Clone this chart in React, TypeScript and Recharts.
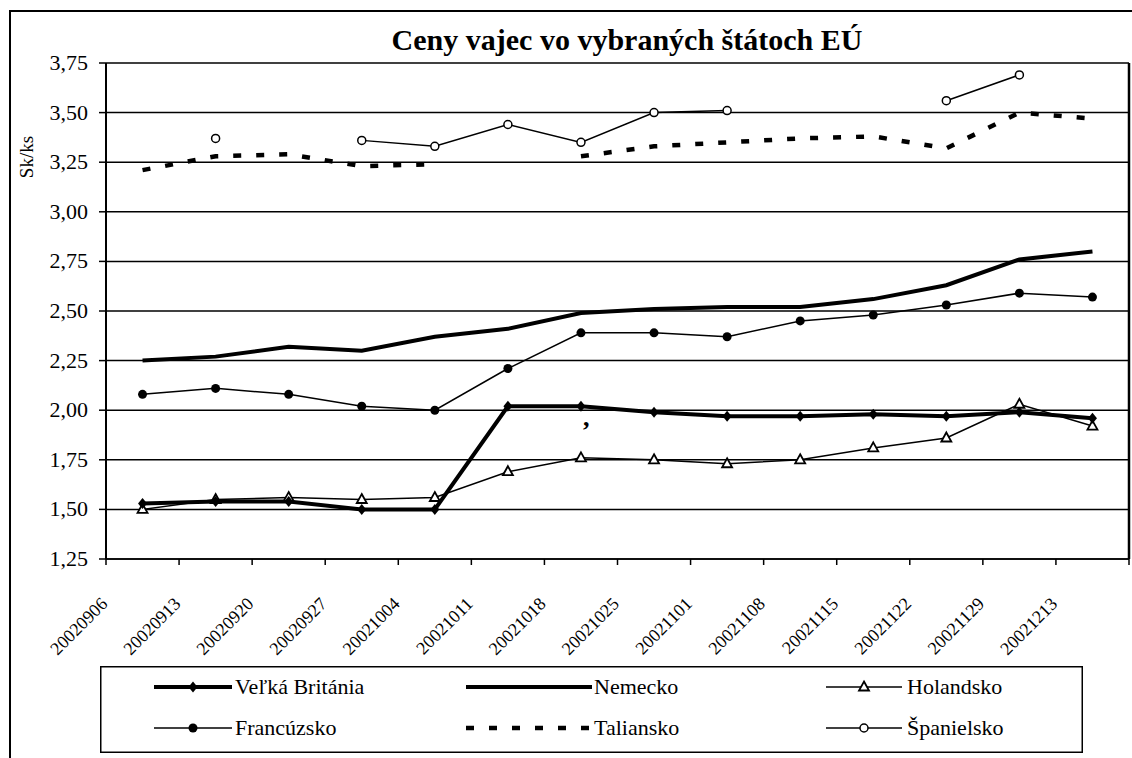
import React from 'react';
import {
    LineChart,
    Line,
    XAxis,
    YAxis,
    CartesianGrid,
    ReferenceDot,
} from 'recharts';

const categories = [
    '20020906', '20020913', '20020920', '20020927', '20021004', '20021011', '20021018',
    '20021025', '20021101', '20021108', '20021115', '20021122', '20021129', '20021213',
];

const velkaBritania = [1.53, 1.54, 1.54, 1.5, 1.5, 2.02, 2.02, 1.99, 1.97, 1.97, 1.98, 1.97, 1.99, 1.96];
const nemecko = [2.25, 2.27, 2.32, 2.3, 2.37, 2.41, 2.49, 2.51, 2.52, 2.52, 2.56, 2.63, 2.76, 2.8];
const holandsko = [1.5, 1.55, 1.56, 1.55, 1.56, 1.69, 1.76, 1.75, 1.73, 1.75, 1.81, 1.86, 2.03, 1.92];
const francuzsko = [2.08, 2.11, 2.08, 2.02, 2.0, 2.21, 2.39, 2.39, 2.37, 2.45, 2.48, 2.53, 2.59, 2.57];
const taliansko = [3.21, 3.28, 3.29, 3.23, 3.24, null, 3.28, 3.33, 3.35, 3.37, 3.38, 3.32, 3.5, 3.47];
const spanielsko = [null, 3.37, null, 3.36, 3.33, 3.44, 3.35, 3.5, 3.51, null, null, 3.56, 3.69, null];

const yTicks = [1.25, 1.5, 1.75, 2.0, 2.25, 2.5, 2.75, 3.0, 3.25, 3.5, 3.75];

const FONT = "'Liberation Serif', 'Times New Roman', Times, serif";
const W = 1132;
const H = 758;
const PLOT_LEFT = 106;
const PLOT_RIGHT = 1129;
const PLOT_TOP = 63;
const PLOT_BOTTOM = 559;
const BAND = (PLOT_RIGHT - PLOT_LEFT) / categories.length;

const data = categories.map((date, i) => ({
    date,
    vb: velkaBritania[i],
    de: nemecko[i],
    nl: holandsko[i],
    fr: francuzsko[i],
    it: taliansko[i],
    es: spanielsko[i],
}));

const fmt = (v: number) => v.toFixed(2).replace('.', ',');
const serif = { fontFamily: FONT };

function Diamond(props: any) {
    const { cx, cy, index } = props;
    if (cx == null || cy == null) return <g key={`dm-${index}`} />;
    return (
        <path
            key={`dm-${index}`}
            d={`M${cx},${cy - 5.5} L${cx + 4.5},${cy} L${cx},${cy + 5.5} L${cx - 4.5},${cy} Z`}
            fill="#000"
        />
    );
}

function Triangle(props: any) {
    const { cx, cy, index } = props;
    if (cx == null || cy == null) return <g key={`tr-${index}`} />;
    return (
        <path
            key={`tr-${index}`}
            d={`M${cx},${cy - 5.5} L${cx + 5},${cy + 3.5} L${cx - 5},${cy + 3.5} Z`}
            fill="#fff"
            stroke="#000"
            strokeWidth={1.8}
        />
    );
}

function XTick(props: any) {
    const { x, y, payload, index } = props;
    const last = index === categories.length - 1;
    return (
        <g>
            <line x1={x - BAND / 2} y1={y} x2={x - BAND / 2} y2={y + 6} stroke="#000" strokeWidth={1.5} />
            {last && <line x1={x + BAND / 2} y1={y} x2={x + BAND / 2} y2={y + 6} stroke="#000" strokeWidth={1.5} />}
            <text
                transform={`translate(${x - 34},${y + 46}) rotate(-45)`}
                textAnchor="end"
                style={serif}
                fontSize={18}
                fill="#000"
            >
                {payload.value}
            </text>
        </g>
    );
}

function YTick(props: any) {
    const { x, y, payload } = props;
    return (
        <text x={x} y={y + 7} textAnchor="end" style={serif} fontSize={22} fill="#000">
            {fmt(payload.value)}
        </text>
    );
}

type Sample = { name: string; dash?: string; width: number; marker?: string; x1: number; x2: number; row: number; textX: number };

const legendItems: Sample[] = [
    { name: 'Veľká Británia', width: 4, marker: 'diamond', x1: 54, x2: 132, row: 0, textX: 135 },
    { name: 'Nemecko', width: 4, x1: 366, x2: 492, row: 0, textX: 494 },
    { name: 'Holandsko', width: 1.5, marker: 'triangle', x1: 726, x2: 802, row: 0, textX: 807 },
    { name: 'Francúzsko', width: 1.5, marker: 'dot', x1: 54, x2: 132, row: 1, textX: 135 },
    { name: 'Taliansko', width: 4.5, dash: '8 15', x1: 366, x2: 492, row: 1, textX: 494 },
    { name: 'Španielsko', width: 1.5, marker: 'circle', x1: 726, x2: 802, row: 1, textX: 807 },
];

function LegendBox() {
    const rowY = [21, 62];
    return (
        <svg width={983} height={87} style={{ display: 'block' }}>
            <rect x={0.75} y={0.75} width={981.5} height={85.5} fill="#fff" stroke="#000" strokeWidth={1.5} />
            {legendItems.map((it) => {
                const cy = rowY[it.row];
                const mx = (it.x1 + it.x2) / 2;
                return (
                    <g key={it.name}>
                        <line x1={it.x1} y1={cy} x2={it.x2} y2={cy} stroke="#000" strokeWidth={it.width} strokeDasharray={it.dash} />
                        {it.marker === 'diamond' && <Diamond cx={mx} cy={cy} index={0} />}
                        {it.marker === 'triangle' && <Triangle cx={mx} cy={cy} index={0} />}
                        {it.marker === 'dot' && <circle cx={mx} cy={cy} r={4.5} fill="#000" />}
                        {it.marker === 'circle' && <circle cx={mx} cy={cy} r={4} fill="#fff" stroke="#000" strokeWidth={1.5} />}
                        <text x={it.textX} y={cy + 7} style={serif} fontSize={22} fill="#000">
                            {it.name}
                        </text>
                    </g>
                );
            })}
        </svg>
    );
}

export default function App() {
    return (
        <div style={{ position: 'absolute', left: 0, top: 0, width: W, height: H, overflow: 'hidden', background: '#fff', fontFamily: FONT }}>
            <div
                style={{
                    position: 'absolute',
                    left: 9,
                    top: 10,
                    width: 1300,
                    height: 900,
                    border: '2px solid #000',
                }}
            />
            <div
                style={{
                    position: 'absolute',
                    left: 627,
                    top: 25,
                    transform: 'translateX(-50%)',
                    whiteSpace: 'nowrap',
                    fontFamily: FONT,
                    fontWeight: 'bold',
                    fontSize: 30,
                    lineHeight: '30px',
                    color: '#000',
                }}
            >
                Ceny vajec vo vybraných štátoch EÚ
            </div>
            <div style={{ position: 'absolute', left: 0, top: 0 }}>
                <LineChart
                    width={W}
                    height={H}
                    data={data}
                    margin={{ top: PLOT_TOP, right: W - PLOT_RIGHT - 1, left: 0, bottom: 0 }}
                >
                    <CartesianGrid vertical={false} stroke="#000" strokeWidth={1.5} />
                    <XAxis
                        dataKey="date"
                        interval={0}
                        padding={{ left: BAND / 2, right: BAND / 2 }}
                        tickLine={false}
                        tickSize={0}
                        tickMargin={0}
                        height={H - PLOT_BOTTOM}
                        axisLine={{ stroke: '#000', strokeWidth: 1.5 }}
                        tick={<XTick />}
                    />
                    <YAxis
                        domain={[1.25, 3.75]}
                        ticks={yTicks}
                        width={PLOT_LEFT}
                        tickSize={7}
                        tickMargin={11}
                        tickLine={{ stroke: '#000', strokeWidth: 1.5 }}
                        axisLine={{ stroke: '#000', strokeWidth: 2 }}
                        tick={<YTick />}
                        label={() => (
                            <text
                                transform="translate(33,157) rotate(-90)"
                                textAnchor="middle"
                                style={serif}
                                fontSize={19}
                                fill="#000"
                            >
                                Sk/ks
                            </text>
                        )}
                    />
                    <YAxis
                        yAxisId="right"
                        orientation="right"
                        width={1}
                        tick={false}
                        tickLine={false}
                        axisLine={{ stroke: '#000', strokeWidth: 2.5 }}
                    />
                    <Line dataKey="de" name="Nemecko" stroke="#000" strokeWidth={4} dot={false} isAnimationActive={false} />
                    <Line dataKey="fr" name="Francúzsko" stroke="#000" strokeWidth={1.5} dot={{ r: 4.5, fill: '#000', stroke: '#000', strokeWidth: 0 }} isAnimationActive={false} />
                    <Line dataKey="it" name="Taliansko" stroke="#000" strokeWidth={4.5} strokeDasharray="8 15" dot={false} isAnimationActive={false} />
                    <Line dataKey="es" name="Španielsko" stroke="#000" strokeWidth={1.5} dot={{ r: 4, fill: '#fff', stroke: '#000', strokeWidth: 1.5 }} isAnimationActive={false} />
                    <Line dataKey="nl" name="Holandsko" stroke="#000" strokeWidth={1.5} dot={<Triangle />} isAnimationActive={false} />
                    <Line dataKey="vb" name="Veľká Británia" stroke="#000" strokeWidth={4} dot={<Diamond />} isAnimationActive={false} />
                    <ReferenceDot
                        x="20021018"
                        y={2.0}
                        r={0}
                        fill="none"
                        stroke="none"
                        label={(p: any) => (
                            <text x={p.viewBox.x + 2} y={p.viewBox.y + 16} style={serif} fontWeight="bold" fontSize={26} fill="#000">
                                ,
                            </text>
                        )}
                    />
                </LineChart>
            </div>
            <div style={{ position: 'absolute', left: 100, top: 666 }}>
                <LegendBox />
            </div>
        </div>
    );
}
